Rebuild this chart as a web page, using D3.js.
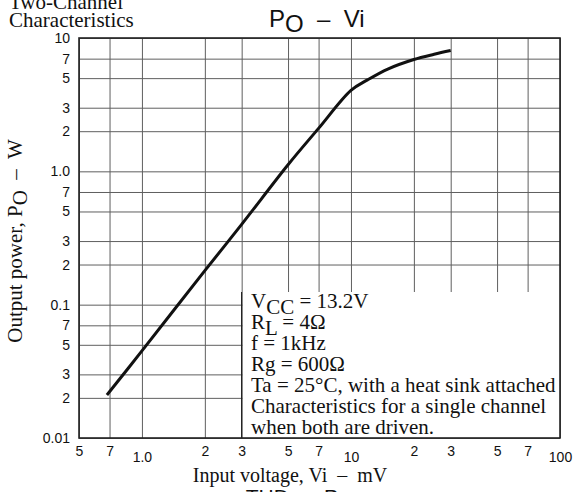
<!DOCTYPE html>
<html>
<head>
<meta charset="utf-8">
<script src="https://cdn.jsdelivr.net/npm/d3@7"></script>
<style>
  html, body { margin: 0; padding: 0; background: #fff; }
  svg { display: block; }
  .serif { font-family: "Liberation Serif", "Times New Roman", serif; fill: #111; }
  .sans { font-family: "Liberation Sans", Arial, sans-serif; fill: #111; }
  .pre { white-space: pre; }
</style>
</head>
<body>
<svg id="chart" width="574" height="492"></svg>
<script>
// Input voltage (mV) and output power (W) along the curve
const inputVoltage = [0.68, 1.0, 2.0, 3.0, 5.0, 7.0, 10, 12, 15, 20, 25, 30];
const outputPower  = [0.021, 0.045, 0.18, 0.40, 1.12, 2.1, 4.05, 4.85, 5.85, 6.9, 7.55, 8.05];

// Tick positions and their printed labels
const xTicks = [0.5, 0.7, 1, 2, 3, 5, 7, 10, 20, 30, 50, 70, 100];
const xTickLabels = ["5", "7", "1.0", "2", "3", "5", "7", "10", "2", "3", "5", "7", "100"];
const yTicks = [0.01, 0.02, 0.03, 0.05, 0.07, 0.1, 0.2, 0.3, 0.5, 0.7, 1, 2, 3, 5, 7, 10];
const yTickLabels = ["0.01", "2", "3", "5", "7", "0.1", "2", "3", "5", "7", "1.0", "2", "3", "5", "7", "10"];

// Measurement conditions
const conditions = [
  { main: "V", sub: "CC", rest: " = 13.2V" },
  { main: "R", sub: "L", rest: " = 4Ω" },
  { main: "f = 1kHz" },
  { main: "Rg = 600Ω" },
  { main: "Ta = 25°C, with a heat sink attached" },
  { main: "Characteristics for a single channel" },
  { main: "when both are driven." }
];

const svg = d3.select("#chart");
const L = 79, R = 560, T = 38, B = 438;

const x = d3.scaleLog().domain([0.5, 100]).range([L, R]);
const y = d3.scaleLog().domain([0.01, 10]).range([B, T]);
const isDecade = v => Math.abs(Math.log10(v) - Math.round(Math.log10(v))) < 1e-9;

// Vertical grid + bottom tick labels
const xAxis = svg.append("g")
  .attr("transform", `translate(0,${B})`)
  .call(d3.axisBottom(x).tickValues(xTicks).tickSize(-(B - T))
        .tickFormat((d, i) => xTickLabels[i]).tickPadding(8));
xAxis.select(".domain").remove();
xAxis.selectAll(".tick line").attr("stroke", "#5f5f5f").attr("stroke-width", 1);
xAxis.selectAll(".tick text")
  .attr("class", "sans").attr("font-size", 14).attr("fill", "#222")
  .attr("dy", d => isDecade(d) && d !== 0.5 ? "1.15em" : "0.71em");

// Horizontal grid + left tick labels
const yAxis = svg.append("g")
  .attr("transform", `translate(${L},0)`)
  .call(d3.axisLeft(y).tickValues(yTicks).tickSize(-(R - L))
        .tickFormat((d, i) => yTickLabels[i]).tickPadding(9));
yAxis.select(".domain").remove();
yAxis.selectAll(".tick line").attr("stroke", "#5f5f5f").attr("stroke-width", 1);
yAxis.selectAll(".tick text")
  .attr("class", "sans").attr("font-size", 14).attr("fill", "#222");

// Conditions panel sits over the lower right grid
const boxTop = 292;
svg.append("rect")
  .attr("x", x(3) + 1).attr("y", boxTop)
  .attr("width", R - x(3) - 1).attr("height", B - boxTop)
  .attr("fill", "#fff");
svg.append("line")
  .attr("x1", x(3)).attr("x2", x(3)).attr("y1", boxTop).attr("y2", B)
  .attr("stroke", "#222").attr("stroke-width", 1.3);

const condText = svg.append("g").attr("class", "serif").attr("font-size", 21);
conditions.forEach((c, i) => {
  const t = condText.append("text").attr("x", 251).attr("y", 308 + i * 21);
  t.append("tspan").text(c.main);
  if (c.sub) {
    t.append("tspan").attr("dy", 6).text(c.sub);
    t.append("tspan").attr("dy", -6).text(c.rest);
  }
});

// Plot frame
svg.append("rect")
  .attr("x", L).attr("y", T).attr("width", R - L).attr("height", B - T)
  .attr("fill", "none").attr("stroke", "#222").attr("stroke-width", 1.6);

// Output power curve
const line = d3.line()
  .x((d, i) => x(inputVoltage[i]))
  .y((d, i) => y(outputPower[i]))
  .curve(d3.curveCatmullRom.alpha(0.5));
svg.append("path")
  .datum(outputPower)
  .attr("d", line)
  .attr("fill", "none").attr("stroke", "#111").attr("stroke-width", 3)
  .attr("stroke-linecap", "butt");

// Title
const title = svg.append("text").attr("class", "sans pre").attr("font-size", 24)
  .attr("x", 269).attr("y", 27);
title.append("tspan").text("P");
title.append("tspan").attr("dy", 5).text("O");
title.append("tspan").attr("dy", -5).text("  –  Vi");

// Corner note
svg.append("text").attr("class", "serif").attr("font-size", 21)
  .attr("x", 9).attr("y", 9).text("Two-Channel");
svg.append("text").attr("class", "serif").attr("font-size", 21)
  .attr("x", 9).attr("y", 27).text("Characteristics");

// Axis titles
const yt = svg.append("text").attr("class", "serif pre").attr("font-size", 21)
  .attr("transform", "translate(22,241) rotate(-90)").attr("text-anchor", "middle");
yt.append("tspan").text("Output power, P");
yt.append("tspan").attr("dy", 5).text("O");
yt.append("tspan").attr("dy", -5).text("  –  W");

svg.append("text").attr("class", "serif pre").attr("font-size", 20)
  .attr("x", 290).attr("y", 482).attr("text-anchor", "middle")
  .text("Input voltage, Vi  –  mV");

// Heading of the next chart, cut by the lower edge
const next = svg.append("text").attr("class", "sans pre").attr("font-size", 21)
  .attr("x", 300).attr("y", 504).attr("text-anchor", "middle");
next.append("tspan").text("THD  –  P");
next.append("tspan").attr("dy", 5).text("O");
</script>
</body>
</html>
